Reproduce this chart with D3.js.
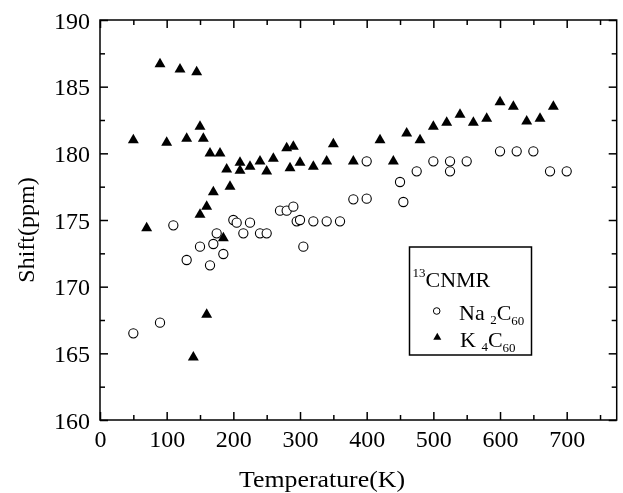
<!DOCTYPE html>
<html>
<head>
<meta charset="utf-8">
<script src="https://cdn.jsdelivr.net/npm/d3@7"></script>
<style>
  html, body { margin: 0; padding: 0; background: #fff; }
  #chart { will-change: transform; background: transparent; }
  svg { display: block; }
  text, tspan { font-family: "Liberation Serif", "Times New Roman", serif; fill: #000; }
</style>
</head>
<body>
<div id="chart"></div>
<script>
// ---- data ----
const naTemp  = [50, 90, 110, 130, 150, 165, 170, 175, 185, 200, 205, 215, 225, 240, 250, 270, 280, 290, 295, 300, 305, 320, 340, 360, 380, 400, 400, 450, 455, 475, 500, 525, 525, 550, 600, 625, 650, 675, 700];
const naShift = [166.5, 167.3, 174.6, 172.0, 173.0, 171.6, 173.2, 174.0, 172.45, 175.0, 174.8, 174.0, 174.8, 174.0, 174.0, 175.7, 175.7, 176.0, 174.9, 175.0, 173.0, 174.9, 174.9, 174.9, 176.55, 176.6, 179.4, 177.85, 176.35, 178.65, 179.4, 179.4, 178.65, 179.4, 180.15, 180.15, 180.15, 178.65, 178.65];

const kTemp  = [50, 70, 90, 100, 120, 130, 140, 145, 150, 150, 155, 160, 160, 165, 170, 180, 185, 190, 195, 210, 210, 225, 240, 250, 260, 280, 285, 290, 300, 320, 340, 350, 380, 420, 440, 460, 480, 500, 520, 540, 560, 580, 600, 620, 640, 660, 680];
const kShift = [181.0, 174.4, 186.7, 180.8, 186.3, 181.1, 164.7, 186.1, 182.0, 175.4, 181.1, 176.0, 167.9, 180.0, 177.1, 180.0, 173.65, 178.8, 177.5, 179.3, 178.7, 179.0, 179.4, 178.65, 179.6, 180.4, 178.9, 180.5, 179.3, 179.0, 179.4, 180.7, 179.4, 181.0, 179.4, 181.5, 181.0, 182.0, 182.3, 182.9, 182.3, 182.6, 183.85, 183.5, 182.4, 182.6, 183.5];

const xTicks = [0, 100, 200, 300, 400, 500, 600, 700];
const xMinorTicks = [50, 150, 250, 350, 450, 550, 650, 750];
const yTicks = [160, 165, 170, 175, 180, 185, 190];
const yMinorTicks = [162.5, 167.5, 172.5, 177.5, 182.5, 187.5];

const xTitle = "Temperature(K)";
const yTitle = "Shift(ppm)";

// ---- layout ----
const W = 623, H = 493;
const L = 100, R = 616.7, T = 20, B = 420;

const svg = d3.select("#chart").append("svg").attr("width", W).attr("height", H);

const x = d3.scaleLinear().domain([0, 775]).range([L, R]);
const y = d3.scaleLinear().domain([160, 190]).range([B, T]);

const fmt = d3.format("d");
const tickFont = 24;

function styleAxis(g) {
  g.select(".domain").remove();
  g.selectAll("line").attr("stroke", "#000").attr("stroke-width", 1.5);
  g.selectAll("text").style("font-family", "Liberation Serif, Times New Roman, serif").style("font-size", tickFont + "px").attr("fill", "#000");
}

// bottom axis with labels
svg.append("g").attr("transform", `translate(0,${B})`)
  .call(d3.axisBottom(x).tickValues(xTicks).tickFormat(fmt).tickSizeInner(-8).tickSizeOuter(0).tickPadding(10))
  .call(styleAxis)
  .call(g => g.selectAll("text").attr("y", 0).attr("dy", "26.5px"));
svg.append("g").attr("transform", `translate(0,${B})`)
  .call(d3.axisBottom(x).tickValues(xMinorTicks).tickFormat("").tickSizeInner(-5).tickSizeOuter(0))
  .call(styleAxis);
// top axis
svg.append("g").attr("transform", `translate(0,${T})`)
  .call(d3.axisTop(x).tickValues(xTicks).tickFormat("").tickSizeInner(-8).tickSizeOuter(0))
  .call(styleAxis);
svg.append("g").attr("transform", `translate(0,${T})`)
  .call(d3.axisTop(x).tickValues(xMinorTicks).tickFormat("").tickSizeInner(-5).tickSizeOuter(0))
  .call(styleAxis);
// left axis with labels
svg.append("g").attr("transform", `translate(${L},0)`)
  .call(d3.axisLeft(y).tickValues(yTicks).tickFormat(fmt).tickSizeInner(-8).tickSizeOuter(0))
  .call(styleAxis)
  .call(g => g.selectAll("text").attr("x", -10).attr("dy", "8.3px"));
svg.append("g").attr("transform", `translate(${L},0)`)
  .call(d3.axisLeft(y).tickValues(yMinorTicks).tickFormat("").tickSizeInner(-5).tickSizeOuter(0))
  .call(styleAxis);
// right axis
svg.append("g").attr("transform", `translate(${R},0)`)
  .call(d3.axisRight(y).tickValues(yTicks).tickFormat("").tickSizeInner(-8).tickSizeOuter(0))
  .call(styleAxis);
svg.append("g").attr("transform", `translate(${R},0)`)
  .call(d3.axisRight(y).tickValues(yMinorTicks).tickFormat("").tickSizeInner(-5).tickSizeOuter(0))
  .call(styleAxis);

// frame
svg.append("rect").attr("x", L).attr("y", T).attr("width", R - L).attr("height", B - T)
  .attr("fill", "none").attr("stroke", "#000").attr("stroke-width", 1.5);

// axis titles
svg.append("text").attr("x", 322).attr("y", 486.5).attr("text-anchor", "middle").attr("fill", "#000")
  .style("font-size", "24px").attr("textLength", 166).attr("lengthAdjust", "spacingAndGlyphs").text(xTitle);
svg.append("text").attr("transform", "translate(34,230) rotate(-90)").attr("text-anchor", "middle").attr("fill", "#000")
  .style("font-size", "24px").text(yTitle);

// data: Na2C60 circles
const naData = naTemp.map((t, i) => ({ t, s: naShift[i] }));
svg.append("g").selectAll("circle").data(naData).join("circle")
  .attr("cx", d => x(d.t)).attr("cy", d => y(d.s)).attr("r", 4.6)
  .attr("fill", "#fff").attr("stroke", "#000").attr("stroke-width", 1.1);

// data: K4C60 triangles
const kData = kTemp.map((t, i) => ({ t, s: kShift[i] }));
const tri = d3.symbol().type(d3.symbolTriangle).size(52);
svg.append("g").selectAll("path").data(kData).join("path")
  .attr("d", tri).attr("transform", d => `translate(${x(d.t)},${y(d.s)})`)
  .attr("fill", "#000");

// legend
const lg = svg.append("g");
lg.append("rect").attr("x", 409.5).attr("y", 247).attr("width", 122).attr("height", 108)
  .attr("fill", "#fff").attr("stroke", "#000").attr("stroke-width", 1.5);
const t1 = lg.append("text").attr("x", 412.5).attr("y", 286.5).style("font-size", "22px").attr("fill", "#000");
t1.append("tspan").style("font-size", "13px").style("fill", "#000").attr("dy", "-10").text("13");
t1.append("tspan").style("fill", "#000").attr("dy", "10").text("CNMR");

lg.append("circle").attr("cx", 436.7).attr("cy", 311).attr("r", 3.3)
  .attr("fill", "#fff").attr("stroke", "#000").attr("stroke-width", 1);
const t2 = lg.append("text").attr("x", 459).attr("y", 320).style("font-size", "22px").attr("fill", "#000");
t2.append("tspan").style("fill", "#000").text("Na ");
t2.append("tspan").style("font-size", "13px").style("fill", "#000").attr("dy", "4").text("2");
t2.append("tspan").style("fill", "#000").attr("dy", "-4").text("C");
t2.append("tspan").style("font-size", "13px").style("fill", "#000").attr("dy", "5").text("60");

lg.append("path").attr("d", d3.symbol().type(d3.symbolTriangle).size(28)())
  .attr("transform", "translate(437.3,337.5)").attr("fill", "#000");
const t3 = lg.append("text").attr("x", 460).attr("y", 346.5).style("font-size", "22px").attr("fill", "#000");
t3.append("tspan").style("fill", "#000").text("K ");
t3.append("tspan").style("font-size", "13px").style("fill", "#000").attr("dy", "4").text("4");
t3.append("tspan").style("fill", "#000").attr("dy", "-4").text("C");
t3.append("tspan").style("font-size", "13px").style("fill", "#000").attr("dy", "5").text("60");
</script>
</body>
</html>
